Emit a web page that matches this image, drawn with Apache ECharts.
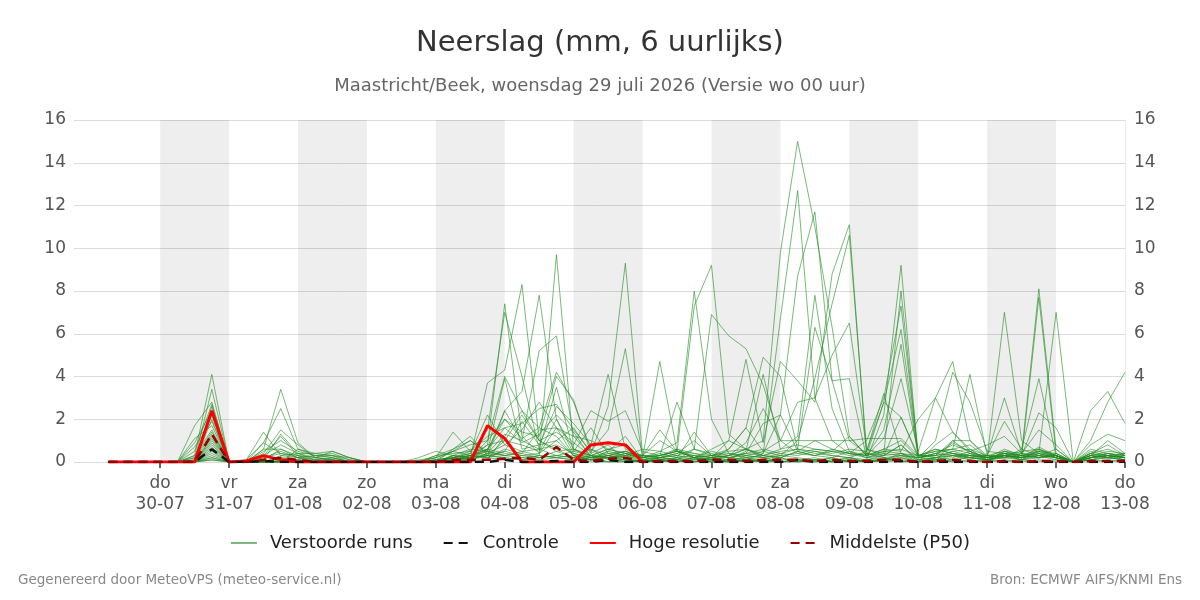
<!DOCTYPE html>
<html>
<head>
<meta charset="utf-8">
<script src="https://cdn.jsdelivr.net/npm/echarts@6/dist/echarts.min.js"></script>
<style>html,body{margin:0;padding:0;background:#fff}#c{width:1200px;height:600px}</style>
</head>
<body>
<div id="c"></div>
<script>
// Tick labels (one per day at 00 uur, hours since 30-07 00:00)
const weekdays = ['do','vr','za','zo','ma','di','wo','do','vr','za','zo','ma','di','wo','do'];
const dates = ['30-07','31-07','01-08','02-08','03-08','04-08','05-08','06-08','07-08','08-08','09-08','10-08','11-08','12-08','13-08'];
const tickHours = [0,24,48,72,96,120,144,168,192,216,240,264,288,312,336];
const shadedDayStarts = [0,48,96,144,192,240,288];

// 6-hourly steps starting 29-07 06:00 (60 steps)
const timesH = [];
for (let i = 0; i < 60; i++) timesH.push(-18 + 6 * i);

// Ensemble members (mm per 6 h)
const run01 = [0,0,0,0,0,0.3,4.1,0,0,0.2, 0.5,0.2,0,0,0,0,0,0,0,0, 0.1,0.3,0.8,7.4,1.2,0.4,1.6,0.3,0.1,0.5, 1.2,0.1,0.3,0.5,0.2,0.1,0.3,0.6,1.0,9.8, 15.0,11.0,6.3,1.2,0.3,0.6,1.0,0.2,0.3,0.9, 0.5,0.1,0.3,0.1,0.4,0.2,0,0.3,1.0,0.4];
const run02 = [0,0,0,0,0,0.1,3.4,0,0,0.6, 3.4,0.9,0.2,0.1,0,0,0,0,0,0.1, 0.2,0.5,1.5,7.0,4.0,0.6,0.3,0.2,0.6,0.1, 0.3,0,0.2,0.1,0.6,0.4,0.2,0.1,0.4,6.7, 12.7,3.0,1.0,0.4,0.2,0.3,0.4,0.1,0.2,0.4, 0.2,0.1,0.2,0.6,0.3,0.3,0,0.2,0.4,0.2];
const run03 = [0,0,0,0,0,1.7,2.8,0,0,0.1, 1.3,0.4,0.1,0,0,0,0,0,0,0, 0,0.2,3.7,4.3,8.3,1.0,0.5,0.2,0.1,0.3, 0.5,0.2,0.1,0.2,0.3,0.1,0.6,1.6,0.5,0.3, 1.0,3.9,7.4,10.6,0.6,0.3,2.1,0.2,0.1,0.3, 0.1,0,0.4,0.1,0.3,0.1,0,0.2,0.3,0.1];
const run04 = [0,0,0,0,0,0.5,2.7,0,0.1,0.9, 2.5,0.6,0.3,0.4,0.1,0,0,0,0,0.2, 1.4,0.5,0.3,2.4,3.3,7.8,2.0,0.4,0.2,0.2, 0.4,0.1,0.2,0.3,0.1,0.2,0.3,0.4,1.8,2.2, 8.7,11.7,3.8,1.0,0.4,0.3,0.8,0.1,0.2,0.5, 0.3,0.1,0.2,0.1,0.6,0.3,0,0.1,0.2,0.1];
const run05 = [0,0,0,0,0,0,2.6,0,0,0.4, 1.5,0.8,0.2,0.5,0.2,0,0,0,0,0.3, 0.6,1.0,0.4,1.3,1.0,5.2,5.9,1.2,0.3,0.6, 0.4,0.2,0.5,0.3,0.2,0.6,1.0,0.6,0.3,0.2, 0.5,1.0,0.6,0.4,0.3,1.1,3.9,0.5,3.0,4.7, 1.0,0.2,0.3,0.5,0.6,0.2,0,0.4,0.2,0.3];
const run06 = [0,0,0,0,0,0.9,2.4,0,0,0.3, 1.2,0.3,0,0.2,0,0,0,0,0,0.1, 0.2,0.4,2.2,0.8,0.5,0.3,9.7,0.6,0.2,0.4, 0.3,0.3,0.2,0.6,0.4,0.3,0.5,0.6,0.2,0.4, 0.6,0.4,0.3,0.2,0.1,2.2,9.2,0.2,0.4,0.8, 0.5,0.2,0.3,0.2,7.7,0.4,0,0.1,0.2,0.1];
const run07 = [0,0,0,0,0,0.2,2.2,0,0,0.5, 1.0,0.5,0.3,0.3,0,0,0,0,0.1,0.2, 0.5,0.8,1.0,4.0,2.4,1.6,4.2,2.8,0.6,0.3, 0.2,0.3,1.5,0.5,0.3,0.2,0.1,0.5,4.1,0.6, 1.2,7.8,2.5,0.5,0.2,0.4,8.0,0.3,0.3,1.0, 0.4,0.1,0.3,0.2,0.5,0.3,0,0.2,0.3,0.2];
const run08 = [0,0,0,0,0,0,2.0,0,0,0.3, 0.8,0.4,0.2,0.1,0,0,0,0,0,0, 0.3,0.2,0.5,3.9,0.6,0.8,2.6,1.8,0.8,4.1, 0.6,0.3,0.3,2.8,0.6,0.3,0.2,0.3,0.5,1.0, 1.0,1.0,1.0,1.0,1.1,1.1,1.1,0.3,0.6,0.4, 0.3,0.3,3.0,0.4,0.2,0.3,0,0.6,0.4,0.3];
const run09 = [0,0,0,0,0,0.7,1.9,0,0,0.1, 0.6,0.2,0.1,0.1,0,0,0,0,0,0, 0.1,0.3,0.6,2.0,1.4,1.2,4.0,2.9,0.4,2.6, 9.3,0.3,0.2,0.4,0.3,0.2,0.3,0.6,0.3,0.2, 0.5,0.3,0.6,0.4,1.0,3.0,7.3,0.3,0.3,0.5, 0.6,0.1,0.5,0.2,0.7,0.3,0,0.4,0.8,0.3];
const run10 = [0,0,0,0,0,1.1,1.7,0,0.1,1.4, 0.3,0.4,0.4,0.5,0.2,0,0,0,0,0.3, 0.4,0.5,1.2,1.6,1.8,2.5,2.7,1.5,0.5,1.5, 5.3,0.2,0.4,0.2,1.4,0.3,0.2,0.4,0.6,0.4, 0.3,0.5,0.3,0.2,0.5,2.8,6.2,0.3,0.5,0.6, 0.4,0.2,0.6,0.3,0.5,0.2,0,0.3,0.4,0.2];
const run11 = [0,0,0,0,0,0.3,1.5,0,0,0.9, 0.4,0.3,0.2,0.3,0.1,0,0,0,0.2,0.5, 0.3,0.2,0.8,1.0,2.2,1.0,1.4,0.8,2.4,1.9, 2.4,0.5,0.3,0.5,0.2,0.3,0.4,0.2,0.3,0.6, 0.8,0.6,0.5,0.4,0.3,1.5,5.5,0.2,0.4,0.3, 0.2,0.1,0.3,0.2,0.4,0.2,0,0.3,0.2,0.1];
const run12 = [0,0,0,0,0,0.2,1.4,0,0,0.6, 0.6,0.3,0.1,0.2,0,0,0,0,0,0, 0.2,0.3,0.5,2.4,1.0,0.6,3.5,0.5,1.6,0.4, 0.5,0.2,4.7,0.5,0.2,0.3,0.2,0.4,0.3,0.5, 0.6,0.5,0.4,0.6,0.5,3.2,0.4,0.3,0.5,0.6, 0.8,0.2,0.4,0.3,0.6,0.3,0,0.2,0.3,0.2];
const run13 = [0,0,0,0,0,0.1,1.3,0,0,0.2, 0.4,0.2,0,0.1,0,0,0,0,0,0, 0.1,0.2,0.3,1.0,0.8,0.5,2.0,0.6,0.3,0.2, 0.3,0.6,0.5,0.9,8.0,2.0,0.4,0.3,0.2,0.3, 0.4,0.3,0.2,0.5,0.3,0.6,0.5,2.0,3.0,1.4, 0.6,0.3,0.2,0.4,0.3,0.6,0,0.5,0.3,0.4];
const run14 = [0,0,0,0,0,0,1.2,0,0,0, 0.3,0.2,0.3,0.2,0,0,0,0,0,0.1, 0.2,0.4,0.2,0.6,0.4,1.5,1.6,1.2,1.0,0.6, 0.4,0.2,0.3,0.5,7.3,9.2,1.3,0.6,0.4,2.2, 0.5,0.3,0.5,0.3,0.4,0.2,0.3,0.2,0.4,0.6, 4.1,0.3,0.3,0.2,0.5,0.4,0,0.3,0.2,0.3];
const run15 = [0,0,0,0,0,0,1.1,0,0,0, 0.2,0.1,0,0,0,0,0,0,0,0, 0,0.1,0.3,0.5,0.3,0.4,1.0,0.3,0.2,0.5, 0.3,0.1,0.2,0.3,0.6,6.9,5.9,5.3,3.6,1.0, 0.4,0.6,0.5,1.2,0.3,0.5,0.4,0.2,0.3,0.4, 0.2,0.1,0.5,0.3,0.2,0.4,0,0.1,0.3,0.2];
const run16 = [0,0,0,0,0,0,1.0,0,0,0, 0.1,0.1,0,0,0,0,0,0,0,0, 0.2,0.1,0.4,0.3,0.5,0.6,0.8,0.4,0.2,0.3, 0.5,0.3,1.0,0.5,0.4,0.2,1.0,4.8,0.9,4.7, 3.8,2.8,8.8,11.1,0.3,2.8,2.1,0.3,0.6,0.4, 0.3,0.2,0.4,0.2,0.3,0.2,0,0.2,0.4,0.3];
const run17 = [0,0,0,0,0,0,0.9,0,0,0, 0,0.6,0.4,0.3,0.2,0,0,0,0,0, 0.1,0.3,0.6,0.4,0.3,0.2,0.5,0.6,0.3,0.2, 0.4,0.3,0.2,0.4,1.0,0.3,0.6,1.6,4.9,4.0, 0.6,6.3,3.8,3.9,0.2,0.5,0.6,0.3,0.2,0.3, 0.2,0.1,0.3,0.1,0.2,0.3,0,0.3,0.2,0.4];
const run18 = [0,0,0,0,0,0,0.8,0,0,0, 0.2,0.1,0,0,0,0,0,0,0,0, 0.3,0.6,0.5,0.3,0.4,0.2,0.3,0.5,0.3,0.6, 0.8,0.2,0.3,0.6,0.2,0.5,0.3,0.9,2.5,1.0, 2.8,3.0,5.0,6.5,0.6,0.4,0.3,0.2,1.0,4.2, 2.8,0.5,0.4,0.3,0.2,0.3,0,0.4,0.3,0.2];
const run19 = [0,0,0,0,0,0,0.7,0,0,0, 0,0,0,0,0,0,0,0,0,0, 0,0,0.1,1.2,2.4,1.0,0.6,0.2,0,0, 0,0.1,0,0.2,0,0.1,0,0.3,0.2,0, 0.1,0,0.2,0,0.1,0.3,0.8,0,0.1,0.2, 0.5,0.2,7.0,1.0,0.4,0.3,0,0.2,0.3,0.2];
const run20 = [0,0,0,0,0,0,0.6,0,0,0, 0,0,0,0,0,0,0,0,0,0, 0.1,0.2,1.0,2.0,1.1,1.6,1.2,0.3,0.1,0, 0.1,0,0.1,0,0.2,0,0,0.1,0,0.2, 0,0.1,0,0.2,0,0.1,0.3,0,0.2,0.1, 0.2,0.3,0.5,0.4,8.1,0.6,0,0.3,0.5,0.4];
const run21 = [0,0,0,0,0,0,0.5,0,0,0, 0,0,0,0,0,0,0,0,0,0, 0.2,0.1,0.4,0.8,1.5,2.8,1.6,0.9,0.3,0, 0,0,0.1,0,0.2,0.1,0,0.2,0.1,0.3, 0.2,0.1,0,0.1,0,0.1,0.4,0,0.2,0.3, 0.3,0.2,0.4,0.3,0.4,7.0,0,0.2,0.3,0.2];
const run22 = [0,0,0,0,0,0,0.4,0,0,0, 0,0,0,0,0,0,0,0,0,0, 0.3,0.2,0.6,1.6,0.9,1.3,2.2,1.4,0.2,0.3, 0.2,0,0.1,0,0.1,0.2,0,0.1,0,0.1, 0.1,0,0.1,0.2,0,0.1,0.2,0,0.1,0, 0.3,0.2,0.3,0.2,0.3,0.2,0,2.4,3.3,1.8];
const run23 = [0,0,0,0,0,0,0.3,0,0,0, 0,0,0,0,0,0,0,0,0,0, 0.2,0.3,0.2,0.5,1.9,0.8,1.0,1.6,0.4,0.8, 0.1,0,0.2,0.1,0,0.1,0,0.1,0,0.2, 0,0.1,0,0.1,0,0.2,0,0.1,0,0.1, 0.4,0.3,0.2,0.3,2.3,1.6,0,1.0,2.8,4.2];
const run24 = [0,0,0,0,0,0,0.2,0,0,0, 0,0,0,0,0,0,0,0,0,0, 0.1,0.2,0.3,0.2,0.1,0.2,0.3,0.2,0.1,0.2, 0.1,0,0,0.1,0.2,0,0,0.1,0.1,0, 0,0.1,0.2,0,0,0.1,0.2,0,0,1.0, 1.0,0.3,1.9,0.6,3.9,0.3,0,0.8,1.3,1.0];
const run25 = [0,0,0,0,0,0,0.2,0,0,0, 0,0,0,0,0,0,0,0,0,0.1, 0.5,0.3,0.2,0.1,0.2,0.3,0.2,0.1,0.2,0.3, 0.1,0,0.1,0.2,0,0,0.1,0.2,0,0, 0.1,0.2,0,0,0.1,0.2,0,0,0.8,1.4, 0.5,0.8,1.2,0.4,1.5,0.8,0,0.4,0.6,0.3];
const run26 = [0,0,0,0,0,0,0.1,0,0,0, 0,0,0,0,0,0,0,0,0,0, 0.6,1.2,0.3,0.2,0.1,0.3,0.2,0.1,0.3,0.2, 0,0.1,0,0.1,0,0.2,0.1,0,0.1,0, 0,0.1,0,0.1,0,0.1,0,0.1,0,0.1, 0,0.1,0,0.1,0,0.1,0,0,0.1,0];
const run27 = [0,0,0,0,0,0,0.1,0,0,0, 0,0,0,0,0,0,0,0,0,0.2, 0.5,1.0,0.5,0.3,0.2,0.1,0.2,0.3,0.1,0.2, 0.1,0,0.1,0,0.1,0,0.1,0,0.1,0, 0.1,0,0.1,0,0.1,0,0.1,0,0.1,0, 0.1,0,0.1,0,0.1,0,0,0.1,0,0.1];
const members = [run01,run02,run03,run04,run05,run06,run07,run08,run09,run10,run11,run12,run13,run14,run15,run16,run17,run18,run19,run20,run21,run22,run23,run24,run25,run26,run27];

const controle = [0,0,0,0,0,0,0.6,0,0,0.05, 0,0,0,0,0,0,0,0,0,0, 0,0,0,0.1,0,0,0.05,0,0,0.1, 0,0,0,0,0,0,0,0,0,0, 0.1,0,0,0,0,0,0.05,0,0,0, 0,0,0,0,0,0,0,0,0,0];
const hogeResolutie = [0,0,0,0,0,0,2.4,0,0.05,0.3, 0.1,0,0,0,0,0,0,0,0,0, 0,0,1.7,1.1,0,0,0,0,0.8,0.9, 0.8,0];
const p50 = [0,0,0,0,0,0,1.3,0,0,0.1, 0.2,0.1,0,0,0,0,0,0,0,0, 0.1,0.1,0.1,0.15,0.2,0.1,0.7,0.1,0.05,0.15, 0.2,0,0.05,0.05,0.05,0.1,0.1,0.05,0.1,0.1, 0.1,0.05,0.1,0.05,0.05,0.1,0.1,0,0.05,0.1, 0.05,0,0.05,0,0.05,0.05,0,0.05,0.05,0.05];

const FONT = 'DejaVu Sans';
const green = 'rgba(34,139,34,0.6)';
function pairs(vals) { return vals.map((v, i) => [timesH[i], v]); }

const series = members.map((arr, k) => ({
  type: 'line', name: 'Verstoorde runs', data: pairs(arr), symbol: 'none',
  lineStyle: { width: 1, color: green }, itemStyle: { color: green },
  silent: true, z: 2,
  markArea: k === 0 ? {
    silent: true,
    itemStyle: { color: 'rgba(0,0,0,0.068)' },
    data: shadedDayStarts.map(h => [{ xAxis: h }, { xAxis: h + 24 }])
  } : undefined
}));
series.push({
  type: 'line', name: 'Hoge resolutie', data: pairs(hogeResolutie), symbol: 'none', z: 4,
  lineStyle: { width: 3, color: '#ff0000' }, itemStyle: { color: '#ff0000' }
});
series.push({
  type: 'line', name: 'Controle', data: pairs(controle), symbol: 'none', z: 5,
  lineStyle: { width: 2.5, color: '#111', type: [9, 6] }, itemStyle: { color: '#111' }
});
series.push({
  type: 'line', name: 'Middelste (P50)', data: pairs(p50), symbol: 'none', z: 6,
  lineStyle: { width: 2.5, color: '#990000', type: [9, 6] }, itemStyle: { color: '#990000' }
});

const chart = echarts.init(document.getElementById('c'), null, { renderer: 'canvas' });
chart.setOption({
  animation: false,
  backgroundColor: '#fff',
  textStyle: { fontFamily: FONT },
  title: [
    { text: 'Neerslag (mm, 6 uurlijks)', left: 'center', top: 24,
      textStyle: { fontFamily: FONT, fontSize: 29, fontWeight: 'normal', color: '#333' } },
    { text: 'Maastricht/Beek, woensdag 29 juli 2026 (Versie wo 00 uur)', left: 'center', top: 72,
      textStyle: { fontFamily: FONT, fontSize: 18, fontWeight: 'normal', color: '#666' } }
  ],
  legend: {
    data: ['Verstoorde runs', 'Controle', 'Hoge resolutie', 'Middelste (P50)'],
    top: 529, left: 'center', itemWidth: 26, itemHeight: 14, itemGap: 30,
    itemStyle: { opacity: 0 },
    textStyle: { fontFamily: FONT, fontSize: 18, color: '#222', padding: [0, 0, 0, 8] }
  },
  grid: { left: 74, right: 75, top: 120, bottom: 138 },
  xAxis: {
    type: 'value', min: -30, max: 336,
    axisLine: { show: false },
    axisTick: { show: true, customValues: tickHours, length: 6, lineStyle: { color: '#666', width: 2 } },
    axisLabel: {
      customValues: tickHours, fontFamily: FONT, fontSize: 17, color: '#555', lineHeight: 21, margin: 11,
      formatter: v => { const k = tickHours.indexOf(v); return k < 0 ? '' : weekdays[k] + '\n' + dates[k]; }
    },
    splitLine: { show: false }
  },
  yAxis: [
    { type: 'value', min: 0, max: 16, interval: 2, position: 'left',
      axisLine: { show: false }, axisTick: { show: false },
      axisLabel: { fontFamily: FONT, fontSize: 17, color: '#555', margin: 8 },
      splitLine: { lineStyle: { color: '#dcdcdc', width: 1 } } },
    { type: 'value', min: 0, max: 16, interval: 2, position: 'right',
      axisLine: { show: true, lineStyle: { color: '#e8e8e8' } }, axisTick: { show: false },
      axisLabel: { fontFamily: FONT, fontSize: 17, color: '#555', margin: 9 },
      splitLine: { show: false } }
  ],
  graphic: [
    { type: 'text', left: 18, top: 573, style: { text: 'Gegenereerd door MeteoVPS (meteo-service.nl)', font: '13.5px "DejaVu Sans"', fill: '#888' } },
    { type: 'text', right: 18, top: 573, style: { text: 'Bron: ECMWF AIFS/KNMI Ens', font: '13.5px "DejaVu Sans"', fill: '#888' } }
  ],
  series: series
});
</script>
</body>
</html>
